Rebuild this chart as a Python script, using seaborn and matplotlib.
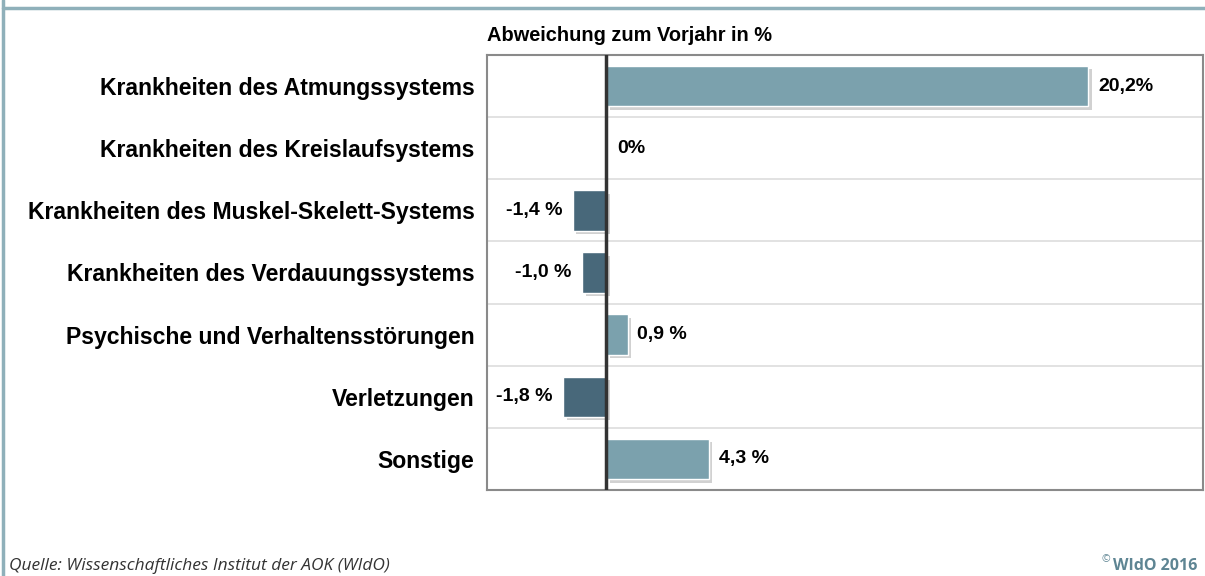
import seaborn as sns
import pandas as pd
import matplotlib.pyplot as plt
import matplotlib.patheffects as pe

categories = ['Krankheiten des Atmungssystems', 'Krankheiten des Kreislaufsystems',
              'Krankheiten des Muskel-Skelett-Systems', 'Krankheiten des Verdauungssystems',
              'Psychische und Verhaltensstörungen', 'Verletzungen', 'Sonstige']
values = [20.2, 0.0, -1.4, -1.0, 0.9, -1.8, 4.3]
value_labels = ['20,2%', '0%', '-1,4 %', '-1,0 %', '0,9 %', '-1,8 %', '4,3 %']

pos_color = '#7BA1AD'
neg_color = '#48687A'

df = pd.DataFrame({'kategorie': categories, 'wert': values})
palette = {c: (pos_color if v >= 0 else neg_color) for c, v in zip(categories, values)}

sns.set_style('white')
plt.rcParams['font.family'] = ['Liberation Sans', 'DejaVu Sans']

fig = plt.figure(figsize=(12.05, 5.76), dpi=100)
ax = fig.add_axes([487 / 1205, 1 - 490 / 576, (1203 - 487) / 1205, (490 - 55) / 576])

sns.barplot(data=df, x='wert', y='kategorie', hue='kategorie', palette=palette,
            orient='h', width=0.65, legend=False, saturation=1, ax=ax)

for p in ax.patches:
    p.set_path_effects([pe.SimplePatchShadow(offset=(2.5, -2.5), shadow_rgbFace='#9a9a9a', alpha=0.45),
                        pe.Normal()])

ax.set_xlim(-5, 25)
ax.set_ylim(len(categories) - 0.5, -0.5)

# row separators
for i in range(len(categories) - 1):
    ax.axhline(i + 0.5, color='#dddddd', lw=1.2, zorder=0)
ax.axvline(0, color='#333333', lw=2.5, zorder=5)

for i, (v, lab) in enumerate(zip(values, value_labels)):
    if v > 0:
        ax.text(v + 0.4, i, lab, ha='left', va='center', fontsize=14, fontweight='bold', color='black')
    elif v < 0:
        ax.text(v - 0.45, i, lab, ha='right', va='center', fontsize=14, fontweight='bold', color='black')
    else:
        ax.text(0.45, i, lab, ha='left', va='center', fontsize=14, fontweight='bold', color='black')

ax.set_xticks([])
ax.set_xlabel('')
ax.set_ylabel('')
ax.tick_params(axis='y', length=0, pad=9, labelsize=16.6, labelcolor='black')
for t in ax.get_yticklabels():
    t.set_fontweight('bold')
for s in ax.spines.values():
    s.set_visible(True)
    s.set_color('#8a8a8a')
    s.set_linewidth(1.5)

ax.text(0, 1.022, 'Abweichung zum Vorjahr in %', transform=ax.transAxes,
        ha='left', va='bottom', fontsize=14.4, fontweight='bold', color='black')

# frame lines
fig.add_artist(plt.Line2D([3 / 1205, 1], [1 - 8 / 576, 1 - 8 / 576], color='#8FB0BA', lw=2.5))
fig.add_artist(plt.Line2D([3 / 1205, 3 / 1205], [0, 1], color='#8FB0BA', lw=2.5))

fig.text(9 / 1205, 1 - 566 / 576, 'Quelle: Wissenschaftliches Institut der AOK (WIdO)',
         ha='left', va='center', fontsize=12.5, style='italic', color='#333333',
         family=['Open Sans', 'DejaVu Sans'])
fig.text(1110 / 1205, 1 - 560 / 576, '©', ha='right', va='center',
         fontsize=7.5, color='#5E8593', family=['Open Sans', 'DejaVu Sans'])
fig.text(1197 / 1205, 1 - 566 / 576, 'WIdO 2016', ha='right', va='center',
         fontsize=11.5, fontweight='bold', color='#5E8593',
         family=['Open Sans', 'DejaVu Sans'])

fig.savefig('out.png', dpi=100)
